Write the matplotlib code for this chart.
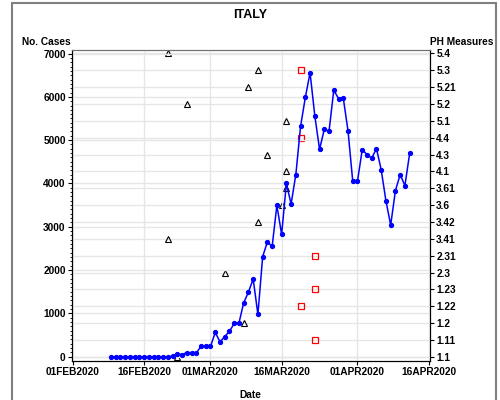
import numpy as np
import pandas as pd
import matplotlib
matplotlib.use('Agg')
import matplotlib.pyplot as plt
import matplotlib.dates as mdates
from matplotlib.patches import Rectangle
from matplotlib.ticker import MultipleLocator, FixedLocator

plt.rcParams['font.family'] = ['Liberation Sans', 'DejaVu Sans']

# daily new cases, one value per day from 09FEB2020
case_start = '2020-02-09'
cases = [0, 0, 0, 0, 0, 0, 0, 0, 0, 0, 0, 0, 0, 14,
         62, 53, 97, 93, 78, 250, 238,
         240, 561, 347, 466, 587, 769, 778, 1247, 1492, 1797, 977,
         2313, 2651, 2547, 3497, 2823, 4000, 3526, 4207, 5322, 5986,
         6557, 5560, 4789, 5249, 5210, 6153, 5959, 5974, 5217, 4050, 4053,
         4782, 4668, 4585, 4805, 4316, 3599, 3039, 3836, 4204, 3951, 4694]

# public health measure codes (right axis, categorical)
ph_levels = ['1.1', '1.11', '1.2', '1.22', '1.23', '2.3', '2.31', '3.41', '3.42',
             '3.6', '3.61', '4.1', '4.3', '4.4', '5.1', '5.2', '5.21', '5.3', '5.4']

tri_dates = ['2020-02-21', '2020-02-21', '2020-02-23', '2020-02-25', '2020-03-04',
             '2020-03-08', '2020-03-09', '2020-03-11', '2020-03-11', '2020-03-13',
             '2020-03-16', '2020-03-17', '2020-03-17', '2020-03-17']
tri_codes = ['5.4', '3.41', '1.1', '5.2', '2.3',
             '1.2', '5.21', '5.3', '3.42', '4.3',
             '3.6', '5.1', '4.1', '3.61']

sq_dates = ['2020-03-20', '2020-03-20', '2020-03-20', '2020-03-23', '2020-03-23', '2020-03-23']
sq_codes = ['5.3', '4.4', '1.22', '2.31', '1.23', '1.11']

date_ticks = ['2020-02-01', '2020-02-16', '2020-03-01', '2020-03-16', '2020-04-01', '2020-04-16']

case_dates = pd.date_range(case_start, periods=len(cases), freq='D')

fig = plt.figure(figsize=(5, 4), dpi=100)
fig.patches.append(Rectangle((12 / 500, -0.05), 484 / 500, 1.0 - 3 / 400 + 0.05,
                             transform=fig.transFigure, fill=False,
                             edgecolor='#808080', linewidth=1.5))
ax = fig.add_axes([72 / 500, 1 - 361 / 400, (430 - 72) / 500, (361 - 50) / 400])
ax2 = ax.twinx()

tfont = dict(fontsize=7.3, fontweight='bold')

ax.plot(case_dates, cases, color='#0000ff', linewidth=1.1, marker='o',
        markersize=2.8, zorder=3)

ax.set_xlim(pd.Timestamp('2020-02-01') - pd.Timedelta(hours=5),
            pd.Timestamp('2020-04-16') + pd.Timedelta(hours=7))
ax.xaxis.set_major_locator(FixedLocator(mdates.date2num(pd.to_datetime(date_ticks))))
ax.set_xticklabels([pd.Timestamp(d).strftime('%d%b%Y').upper() for d in date_ticks], **tfont)
ax.set_yticks(range(0, 8000, 1000))
ax.set_yticklabels([str(v) for v in range(0, 8000, 1000)], **tfont)
ax.yaxis.set_minor_locator(MultipleLocator(100))
ax.set_ylim(-97, 7081)

ax.grid(True, which='major', color='#e6e6e6', linewidth=1.0)
ax.set_axisbelow(True)

tri_y = [ph_levels.index(c) for c in tri_codes]
sq_y = [ph_levels.index(c) for c in sq_codes]
ax2.plot(pd.to_datetime(tri_dates), tri_y, linestyle='none', marker='^',
         markersize=4.3, markerfacecolor='none', markeredgecolor='black',
         markeredgewidth=0.8)
ax2.plot(pd.to_datetime(sq_dates), sq_y, linestyle='none', marker='s',
         markersize=5, markerfacecolor='none', markeredgecolor='#ff0000',
         markeredgewidth=0.9)
ax2.set_ylim(-0.24, 18.2)
ax2.set_yticks(range(len(ph_levels)))
ax2.set_yticklabels(ph_levels, **tfont)
ax2.yaxis.grid(True, color='#e6e6e6', linewidth=1.0)
ax2.set_zorder(ax.get_zorder() - 1)
ax.patch.set_visible(False)

for a in (ax, ax2):
    a.spines['top'].set_color('#707070')
    a.tick_params(length=3, width=0.8, pad=1.5, colors='black')
ax.tick_params(which='minor', length=1.8, width=0.6)

fig.text(250 / 500, 1 - 15 / 400, 'ITALY', ha='center', va='center',
         fontsize=9, fontweight='bold')
fig.text(22 / 500, 1 - 42 / 400, 'No. Cases', ha='left', va='center', **tfont)
fig.text(493 / 500, 1 - 42 / 400, 'PH Measures', ha='right', va='center', **tfont)
fig.text(250 / 500, 1 - 395 / 400, 'Date', ha='center', va='center', **tfont)

fig.savefig('out.png', dpi=100)
